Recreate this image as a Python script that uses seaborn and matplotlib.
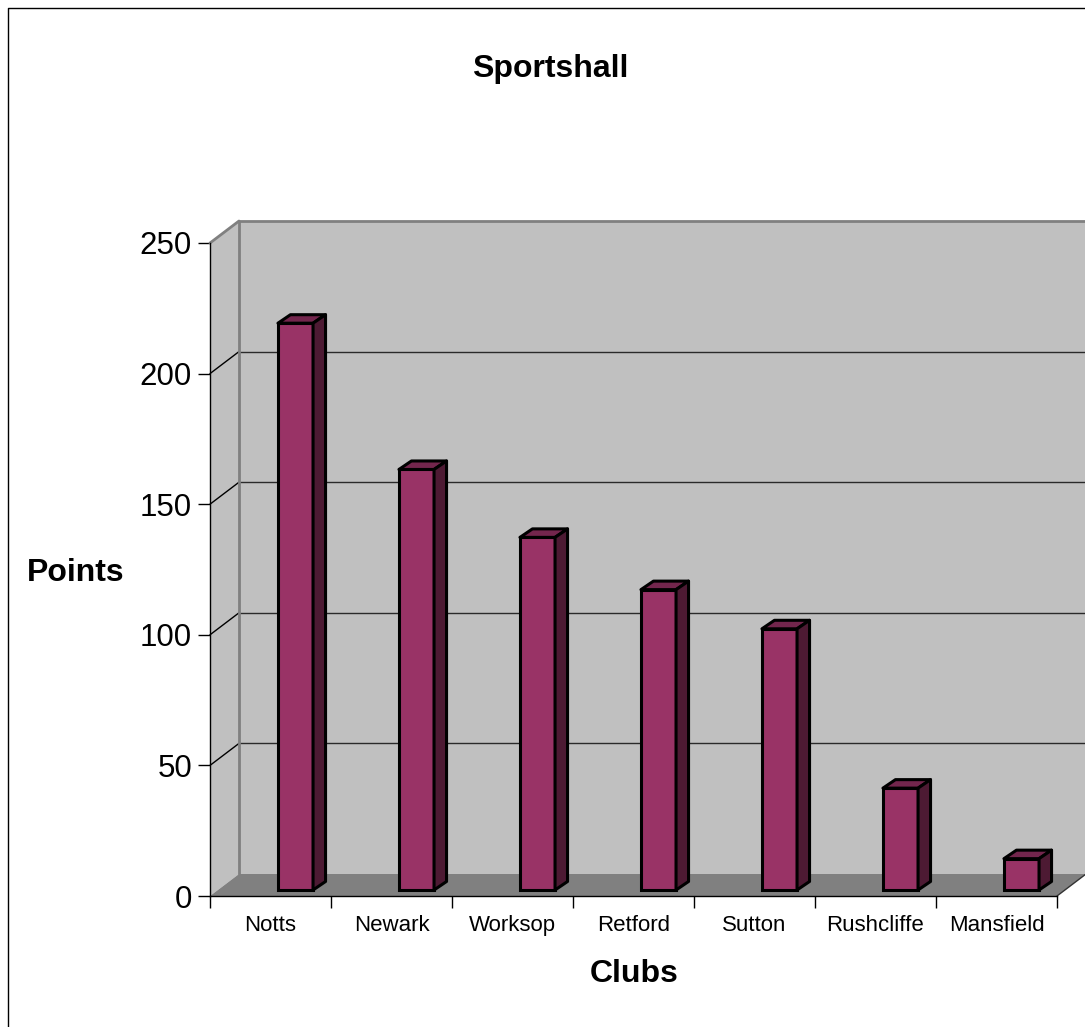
import numpy as np
import pandas as pd
import matplotlib
matplotlib.use("Agg")
import matplotlib.pyplot as plt
from matplotlib.patches import Polygon
from matplotlib.lines import Line2D
import seaborn as sns

# Chart data.
clubs = ["Notts", "Newark", "Worksop", "Retford", "Sutton", "Rushcliffe", "Mansfield"]
points = [217, 161, 135, 115, 100, 39, 12]
y_ticks = [0, 50, 100, 150, 200, 250]

sns.set_style("white")
plt.rcParams["font.family"] = ["Liberation Sans", "DejaVu Sans"]
plt.rcParams["text.color"] = "black"
plt.rcParams["xtick.color"] = "black"
plt.rcParams["ytick.color"] = "black"

W, H = 1085, 1027
fig = plt.figure(figsize=(W / 100, H / 100), dpi=100)
ax = fig.add_axes([210 / W, 1 - 896 / H, 847 / W, 653 / H])
ax.patch.set_visible(False)

# Pixel size in data units.
px_x = 7 / 847
px_y = 250 / 653

# Depth of the walls and of the bars.
wdx, wdy = 29 * px_x, 22 * px_y
bdx, bdy = 12.5 * px_x, 8.5 * px_y
shift_x, base_y = 25 * px_x, 6 * px_y

wall_grey = "#c0c0c0"
edge_grey = "#808080"
x_left, x_right = -0.5, 6.5
x_far = x_right + wdx + 0.2

# Back wall and side wall.
ax.add_patch(Polygon([(x_left + wdx, wdy), (x_far, wdy), (x_far, 250 + wdy),
                      (x_left + wdx, 250 + wdy)], closed=True,
                     facecolor=wall_grey, edgecolor="none", zorder=0.5, clip_on=False))
ax.add_patch(Polygon([(x_left, 0), (x_left + wdx, wdy), (x_left + wdx, 250 + wdy),
                      (x_left, 250)], closed=True,
                     facecolor=wall_grey, edgecolor="none", zorder=0.5, clip_on=False))

# Gridlines on both walls.
for v in y_ticks[1:-1]:
    ax.add_line(Line2D([x_left + wdx, x_far], [v + wdy, v + wdy],
                       color="#2a2a2a", lw=1, zorder=0.6, clip_on=False))
    ax.add_line(Line2D([x_left, x_left + wdx], [v, v + wdy],
                       color="black", lw=1, zorder=0.6, clip_on=False))

# Wall edges.
ax.add_line(Line2D([x_left + wdx, x_left + wdx, x_far], [wdy, 250 + wdy, 250 + wdy],
                   color=edge_grey, lw=2, zorder=0.65, clip_on=False))
ax.add_line(Line2D([x_left, x_left + wdx], [250, 250 + wdy],
                   color=edge_grey, lw=2, zorder=0.65, clip_on=False))

# Floor.
ax.add_patch(Polygon([(x_left, 0), (x_right, 0), (x_right + wdx, wdy),
                      (x_left + wdx, wdy)], closed=True,
                     facecolor=edge_grey, edgecolor="none", zorder=0.7, clip_on=False))
ax.add_line(Line2D([x_right, x_right + wdx], [0, wdy],
                   color="#333333", lw=1, zorder=0.75, clip_on=False))

# Bars (front faces).
df = pd.DataFrame({"Club": clubs, "Points": points})
sns.barplot(data=df, x="Club", y="Points", color="#993366", saturation=1,
            width=0.29, edgecolor="black", linewidth=2.2, zorder=5, ax=ax)

# Move the front faces back a bit and add top and side faces.
for p in ax.patches:
    if p.get_zorder() != 5:
        continue
    x0 = p.get_x() + shift_x
    p.set_x(x0)
    p.set_y(base_y)
    w = p.get_width()
    top = base_y + p.get_height()
    ax.add_patch(Polygon([(x0, top), (x0 + w, top), (x0 + w + bdx, top + bdy),
                          (x0 + bdx, top + bdy)], closed=True,
                         facecolor="#73264d", edgecolor="black", lw=2.2,
                         joinstyle="round", zorder=5, clip_on=False))
    ax.add_patch(Polygon([(x0 + w, base_y), (x0 + w + bdx, base_y + bdy),
                          (x0 + w + bdx, top + bdy), (x0 + w, top)], closed=True,
                         facecolor="#4d1a33", edgecolor="black", lw=2.2,
                         joinstyle="round", zorder=5, clip_on=False))

# Axes.
ax.set_xlim(x_left, x_right)
ax.set_ylim(0, 250)
ax.set_yticks(y_ticks)
ax.set_xticks(range(len(clubs)))
ax.set_xticklabels(clubs)
ax.set_xticks(np.arange(-0.5, len(clubs), 1), minor=True)
ax.tick_params(axis="y", left=True, length=8.6, width=1, pad=4.3,
               labelsize=22.5, color="black", labelcolor="black", direction="out")
ax.tick_params(axis="x", which="major", bottom=True, length=0, pad=13.5,
               labelsize=16, labelcolor="black")
ax.tick_params(axis="x", which="minor", bottom=True, length=8.6, width=1,
               color="black", direction="out")
ax.set_xlabel("")
ax.set_ylabel("")
for side in ["top", "right"]:
    ax.spines[side].set_visible(False)
for side in ["left", "bottom"]:
    ax.spines[side].set_color("black")
    ax.spines[side].set_linewidth(1)

# Titles.
fig.text(550 / W, 1 - 77 / H, "Sportshall", ha="center", va="baseline",
         fontsize=23, fontweight="bold", color="black")
fig.text(76 / W, 1 - 581 / H, "Points", ha="center", va="baseline",
         fontsize=23, fontweight="bold", color="black")
fig.text(634 / W, 1 - 982 / H, "Clubs", ha="center", va="baseline",
         fontsize=23, fontweight="bold", color="black")

# Chart border (left and top).
fig.add_artist(Line2D([7.5 / W, 7.5 / W, 1], [0, 1 - 7.5 / H, 1 - 7.5 / H],
                      color="black", lw=1, transform=fig.transFigure))

fig.savefig("out.png", dpi=100)
